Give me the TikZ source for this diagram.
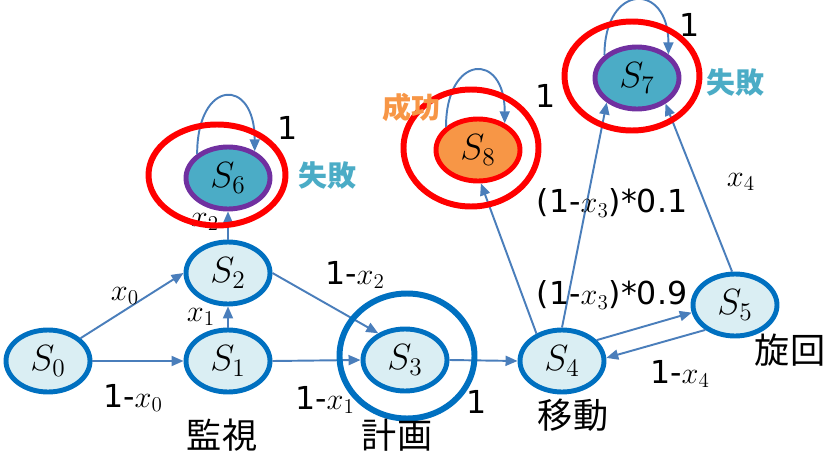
\documentclass[tikz,border=0pt]{standalone}
\usepackage{fontspec}
\usetikzlibrary{shapes.geometric,arrows.meta}
\newfontfamily\jpfont{Noto Sans CJK JP}
\newfontfamily\numfont{DejaVu Sans}
\definecolor{stblue}{HTML}{0070C0}
\definecolor{stfill}{HTML}{DAEEF3}
\definecolor{edgeblue}{HTML}{4A7EBB}
\definecolor{failfill}{HTML}{4BACC6}
\definecolor{failline}{HTML}{7030A0}
\definecolor{okfill}{HTML}{F79646}
\definecolor{ringred}{HTML}{FF0000}

\begin{document}
\begin{tikzpicture}[
    st/.style={ellipse, draw=stblue, line width=2.8pt, fill=stfill,
        minimum width=1.68cm, minimum height=1.24cm, inner sep=0pt,
        font=\fontsize{21}{24}\selectfont},
    failst/.style={st, draw=failline, fill=failfill},
    okst/.style={st, draw=ringred, fill=okfill},
    ring/.style={draw=ringred, line width=3.4pt},
    tr/.style={draw=edgeblue, line width=1.1pt, -{Triangle[length=0.24cm,width=0.2cm]}},
    lbl/.style={font=\numfont\fontsize{18}{21}\selectfont, inner sep=0pt},
    phase/.style={font=\jpfont\fontsize{20}{23}\selectfont, inner sep=0pt},
    tag/.style={font=\jpfont\bfseries\fontsize{16.5}{19}\selectfont, inner sep=0pt}
]
    \useasboundingbox (0,0) rectangle (16.5,9.08);

    % states
    \node[st] (S0) at (0.96, 1.86) {$S_0$};
    \node[st] (S1) at (4.56, 1.86) {$S_1$};
    \node[st] (S2) at (4.56, 3.62) {$S_2$};
    \node[st] (S3) at (8.10, 1.88) {$S_3$};
    \node[st] (S4) at (11.24, 1.86) {$S_4$};
    \node[st] (S5) at (14.70, 2.98) {$S_5$};
    \node[failst] (S6) at (4.56, 5.52) {$S_6$};
    \node[failst] (S7) at (12.74, 7.52) {$S_7$};
    \node[okst] (S8) at (9.56, 6.08) {$S_8$};

    % transitions
    \draw[tr] (S0.35) -- (S2.west);
    \draw[tr] (S0.east) -- (S1.west);
    \draw[tr] (S1.north) -- (S2.south);
    \draw[tr] (S2.north) -- (S6.south);
    \draw[tr] (S2.east) -- (S3.135);
    \draw[tr] (S1.east) -- (S3.west);
    \draw[tr] (S3.east) -- (S4.west);
    \draw[tr] (S4.133) -- (S8.275);
    \draw[tr] (S4.north) -- (S7.219);
    \draw[tr] (S4.31) -- (S5.190);
    \draw[tr] (S5.220) -- (S4.4);
    \draw[tr] (S5.95) -- (S7.318);

    % self loops
    \draw[tr] (S6.142) .. controls +(0,1.5) and +(0,1.5) .. (S6.45);
    \draw[tr] (S8.144) .. controls +(0,1.45) and +(0,1.45) .. (S8.45);
    \draw[tr] (S7.145) .. controls +(0,1.45) and +(0,1.45) .. (S7.37);

    % transition labels
    \node[lbl] (l02) at (2.50, 3.16) {$x_0$};
    \node[lbl] (l01) at (2.66, 1.12) {1-$x_0$};
    \node[lbl] (l12) at (4.02, 2.74) {$x_1$};
    \node[lbl] (l26) at (4.10, 4.64) {$x_2$};
    \node[lbl] (l23) at (7.10, 3.58) {1-$x_2$};
    \node[lbl] (l13) at (6.50, 1.08) {1-$x_1$};
    \node[lbl] (l34) at (9.54, 1.04) {1};
    \node[lbl] (l47) at (12.24, 5.02) {(1-$x_3$)*0.1};
    \node[lbl] (l45) at (12.24, 3.18) {(1-$x_3$)*0.9};
    \node[lbl] (l57) at (14.82, 5.44) {$x_4$};
    \node[lbl] (l54) at (13.60, 1.60) {1-$x_4$};
    \node[lbl] (l66) at (5.76, 6.52) {1};
    \node[lbl] (l88) at (10.92, 7.16) {1};
    \node[lbl] (l77) at (13.80, 8.58) {1};

    % goal rings
    \draw[ring] (4.34, 5.58) ellipse (1.37 and 1.01);
    \draw[ring] (9.42, 6.12) ellipse (1.35 and 1.17);
    \draw[ring] (12.64, 7.56) ellipse (1.35 and 1.09);
    \draw[stblue, line width=3.4pt] (8.14, 1.96) ellipse (1.35 and 1.25);

    % phase names
    \node[phase] (kanshi) at (4.44, 0.38) {監視};
    \node[phase] (keikaku) at (7.94, 0.38) {計画};
    \node[phase] (idou) at (11.46, 0.78) {移動};
    \node[phase] (senkai) at (15.80, 2.08) {旋回};
    \node[tag, text=failfill] (fail6) at (6.54, 5.56) {失敗};
    \node[tag, text=okfill] (succ8) at (8.22, 6.94) {成功};
    \node[tag, text=failfill] (fail7) at (14.70, 7.42) {失敗};
\end{tikzpicture}
\end{document}
